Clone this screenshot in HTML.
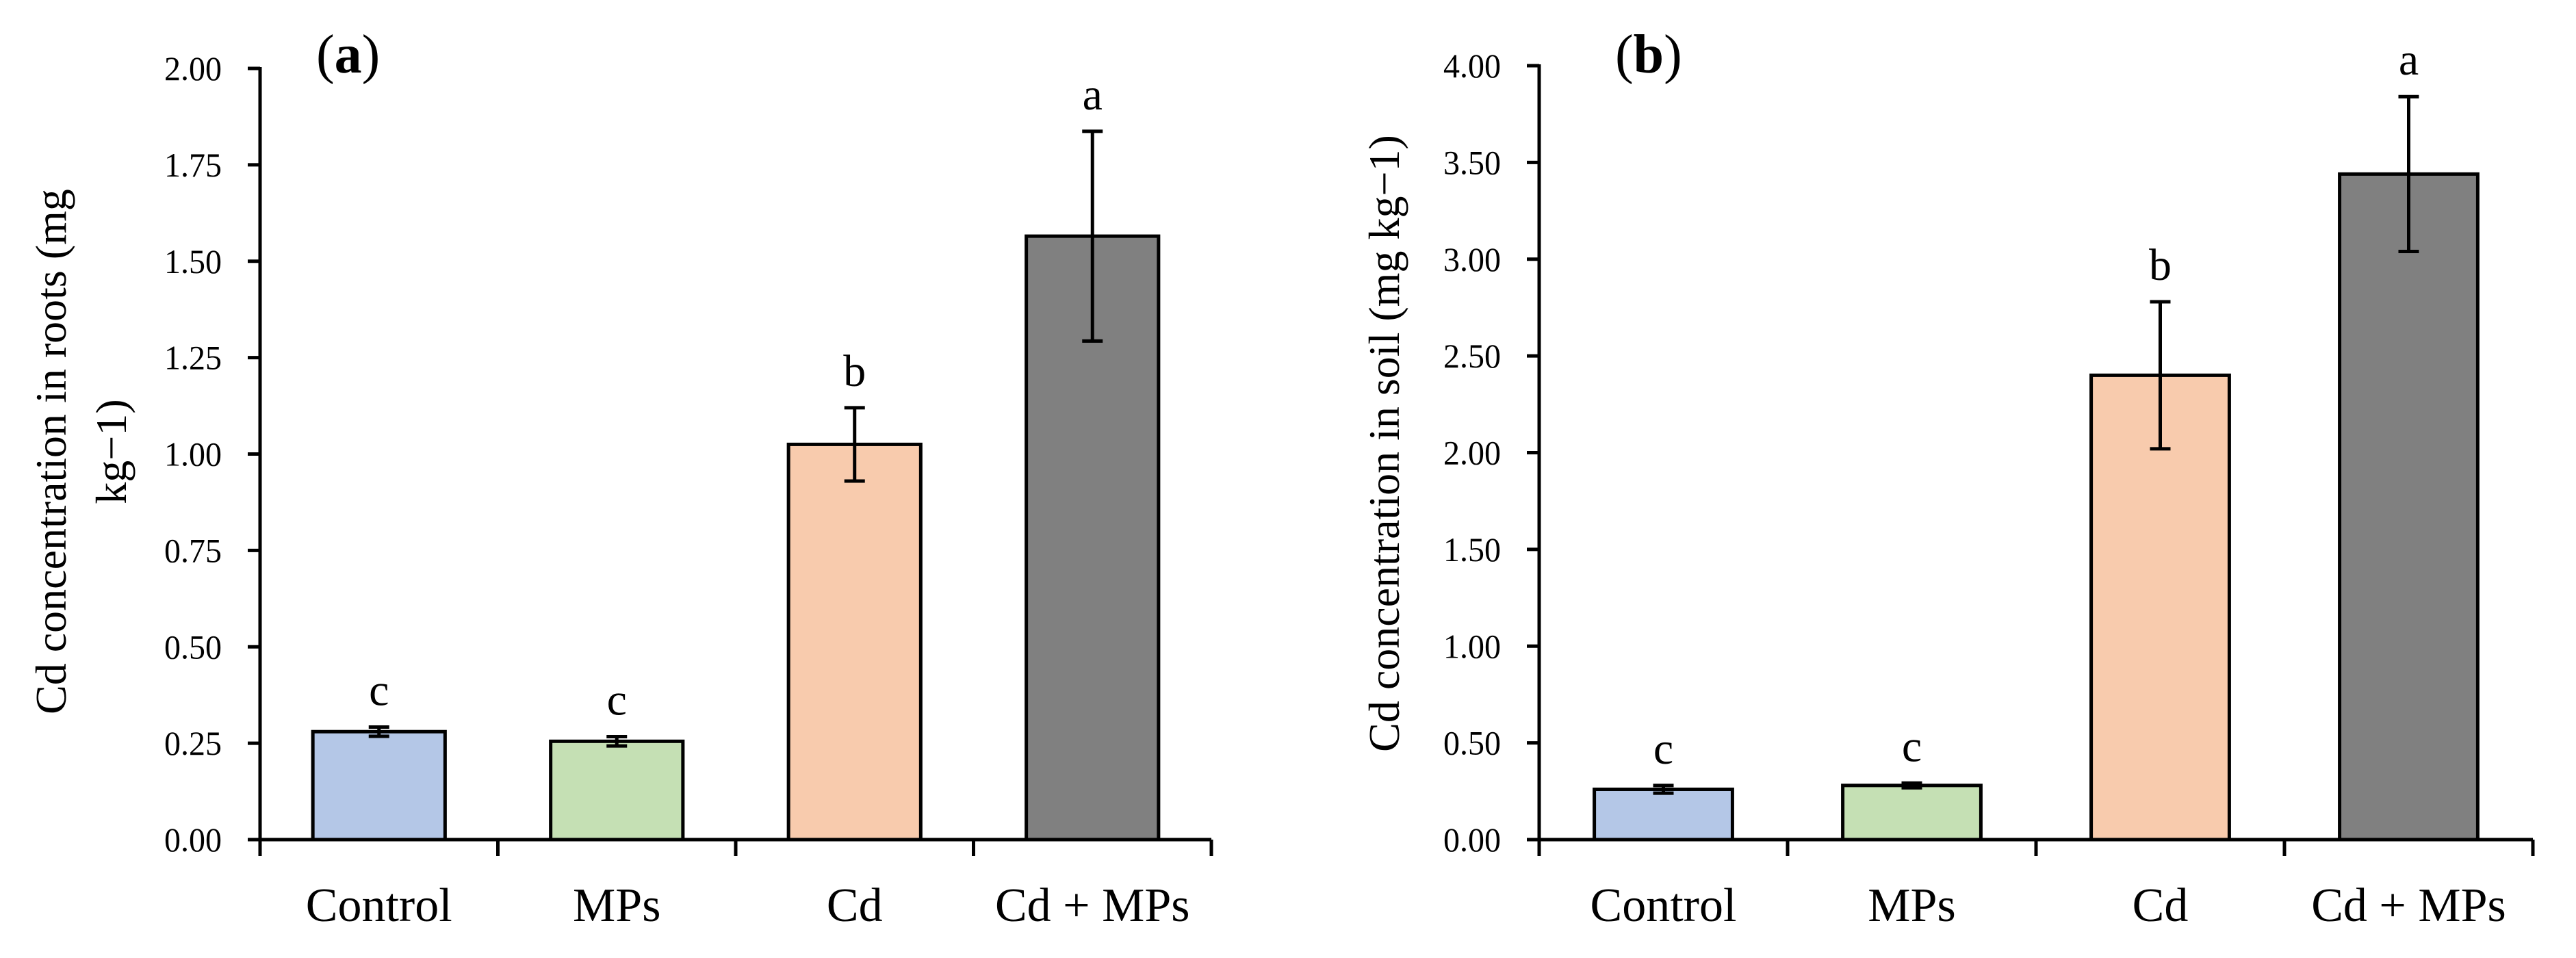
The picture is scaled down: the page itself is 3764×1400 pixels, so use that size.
<!DOCTYPE html>
<html><head><meta charset="utf-8"><style>
html,body{margin:0;padding:0;background:#fff;}
svg{display:block;font-family:"Liberation Serif",serif;}
</style></head><body>
<svg id="chart" width="3764" height="1400" viewBox="0 0 3764 1400" xmlns="http://www.w3.org/2000/svg"></svg>
<script>
const categories = ["Control", "MPs", "Cd", "Cd + MPs"];
const colors = ["#b4c7e7", "#c5e0b4", "#f8cbad", "#808080"];
const rootsValues = [0.28, 0.255, 1.025, 1.565];
const rootsErrors = [0.012, 0.012, 0.095, 0.272];
const rootsLetters = ["c", "c", "b", "a"];
const rootsTicks = ["0.00","0.25","0.50","0.75","1.00","1.25","1.50","1.75","2.00"];
const soilValues = [0.26, 0.28, 2.40, 3.44];
const soilErrors = [0.02, 0.012, 0.38, 0.40];
const soilLetters = ["c", "c", "b", "a"];
const soilTicks = ["0.00","0.50","1.00","1.50","2.00","2.50","3.00","3.50","4.00"];

const svg = document.getElementById('chart');
const NS = "http://www.w3.org/2000/svg";
function mk(tag, attrs, parent) {
  const e = document.createElementNS(NS, tag);
  for (const k in attrs) e.setAttribute(k, attrs[k]);
  (parent || svg).appendChild(e);
  return e;
}

function panel(opt) {
  const g = mk('g', {});
  
  
  const x0 = opt.x0, x1 = opt.x1, yTop = opt.yTop, yBot = opt.yBot;
  const ymax = parseFloat(opt.ticks[opt.ticks.length - 1]);
  const y = v => yBot - (v / ymax) * (yBot - yTop);
  const n = opt.values.length;
  const cw = (x1 - x0) / n;
  opt.values.forEach((v, i) => {
    const bx = x0 + cw * i + cw * 0.222;
    const bw = cw * 0.556;
    const r = mk('rect', {x: bx, y: y(v), width: bw, height: yBot - y(v), fill: colors[i], stroke: '#000', 'stroke-width': 5}, g);
    
    
    const cx = bx + bw / 2;
    const e = opt.errors[i];
    const eg = mk('g', {stroke: '#000', 'stroke-width': 5}, g);
    
    
    mk('line', {x1: cx, x2: cx, y1: y(v + e), y2: y(v - e)}, eg);
    mk('line', {x1: cx - 15, x2: cx + 15, y1: y(v + e), y2: y(v + e)}, eg);
    mk('line', {x1: cx - 15, x2: cx + 15, y1: y(v - e), y2: y(v - e)}, eg);
    const t = mk('text', {x: cx, y: y(v + e) - 32, 'font-size': 66, 'text-anchor': 'middle'}, g);
    t.textContent = opt.letters[i];
    
    
    const c = mk('text', {x: x0 + cw * (i + 0.5), y: 1346, 'font-size': 70, 'text-anchor': 'middle'}, g);
    c.textContent = categories[i];
    
    
  });
  const ax = mk('g', {stroke: '#000', 'stroke-width': 5}, g);
  
  
  mk('line', {x1: x0, x2: x0, y1: yTop - 2, y2: yBot + 24}, ax);
  mk('line', {x1: x0 - 2, x2: x1, y1: yBot, y2: yBot}, ax);
  for (let i = 1; i <= n; i++) mk('line', {x1: x0 + cw * i, x2: x0 + cw * i, y1: yBot, y2: yBot + 24}, ax);
  opt.ticks.forEach(tl => {
    const yy = y(parseFloat(tl));
    mk('line', {x1: x0 - 18, x2: x0, y1: yy, y2: yy}, ax);
    const t = mk('text', {x: x0 - 56, y: yy + 17, 'font-size': 50, 'text-anchor': 'end', 'textLength': 84, 'lengthAdjust': 'spacingAndGlyphs'}, g);
    t.textContent = tl;
    
    
  });
  opt.title.forEach((line, k) => {
    const tx = opt.titleX[k];
    const t = mk('text', {x: tx, y: opt.titleCY, 'font-size': 64, 'text-anchor': 'middle', transform: 'rotate(-90 ' + tx + ' ' + opt.titleCY + ')'}, g);
    t.textContent = line;
    
    
  });
  const pl = mk('text', {x: opt.labelX, y: 106, 'font-size': 80}, g);
  pl.innerHTML = '(<tspan font-weight="bold">' + opt.label + '</tspan>)';
  
  
}

panel({name: 'panel-a-roots', x0: 380, x1: 1770, yTop: 100, yBot: 1227, values: rootsValues, errors: rootsErrors, letters: rootsLetters, ticks: rootsTicks,
  title: ['Cd concentration in roots (mg', 'kg\u22121)'], titleX: [96, 184], titleCY: 660, labelX: 462, label: 'a'});
panel({name: 'panel-b-soil', x0: 2249, x1: 3701, yTop: 96, yBot: 1227, values: soilValues, errors: soilErrors, letters: soilLetters, ticks: soilTicks,
  title: ['Cd concentration in soil (mg kg\u22121)'], titleX: [2044], titleCY: 648, labelX: 2360, label: 'b'});
</script>
</body></html>
